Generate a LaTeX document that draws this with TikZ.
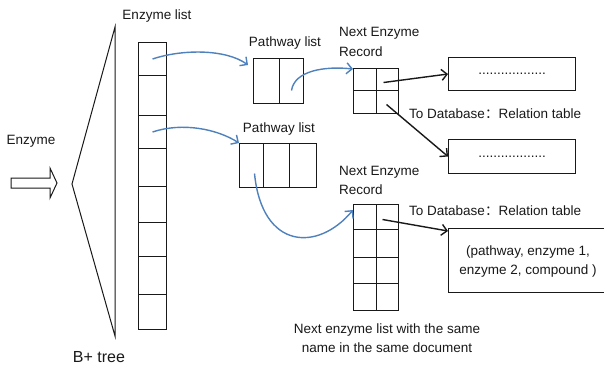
\documentclass[tikz,border=0pt]{standalone}
\usepackage{fontspec}
\setmainfont{Liberation Sans}
\newfontfamily\cjkfont{Noto Sans CJK SC}
\usetikzlibrary{arrows.meta,calc}
\definecolor{linkblue}{RGB}{79,129,189}
\definecolor{ink}{RGB}{25,25,25}

\begin{document}
\begin{tikzpicture}[x=1bp,y=-1bp,
  every node/.style={font=\fontsize{13.5bp}{19.5bp}\selectfont, text=ink},
  cell/.style={draw=ink, line width=1bp, inner sep=0, anchor=north west},
  caption/.style={inner sep=0},
  bluelink/.style={draw=linkblue, line width=1.4bp,
    -{Straight Barb[length=5.5bp,width=11bp]}},
  blacklink/.style={draw=ink, line width=1.4bp,
    -{Straight Barb[length=5.5bp,width=11bp]}}]

% canvas
\clip (0,0) rectangle (604,368);
\fill[white] (0,0) rectangle (604,368);

% input arrow and B+ tree outline
\draw[ink, line width=1bp, line join=miter]
  (11,178) -- (50,178) -- (50,168) -- (57,183) -- (50,198) -- (50,188) -- (11,188) -- cycle;
\draw[ink, line width=1bp] (115,27) -- (72,184) -- (115,336) -- cycle;

\node[caption] (enz)  at (31,141)  {Enzyme};
\node[caption, font=\fontsize{16bp}{19bp}\selectfont] (bt) at (99,357) {B+ tree};
\node[caption] (elst) at (157,16)  {Enzyme list};

% enzyme list column
\foreach \n/\top/\h in {1/42/33, 2/75/40, 3/115/33, 4/148/38,
                        5/186/36, 6/222/34, 7/256/38, 8/294/35}
  \node[cell, minimum width=28bp, minimum height=\h bp] (e\n) at (138,\top) {};

% pathway lists
\node[caption] (pl1) at (285,43) {Pathway list};
\node[cell, minimum width=26bp, minimum height=45bp] (p1a) at (253,58) {};
\node[cell, minimum width=24bp, minimum height=45bp] (p1b) at (279,58) {};

\node[caption] (pl2) at (279,129) {Pathway list};
\node[cell, minimum width=24bp, minimum height=44bp] (p2a) at (239,143) {};
\node[cell, minimum width=26bp, minimum height=44bp] (p2b) at (263,143) {};
\node[cell, minimum width=27bp, minimum height=44bp] (p2c) at (289,143) {};

% first record
\node[caption, align=left, anchor=west] (nr1) at (339,42) {Next Enzyme\\Record};
\node[cell, minimum width=23bp, minimum height=22bp] (r1a) at (353,68) {};
\node[cell, minimum width=22bp, minimum height=22bp] (r1b) at (376,68) {};
\node[cell, minimum width=23bp, minimum height=23bp] (r1c) at (353,90) {};
\node[cell, minimum width=22bp, minimum height=23bp] (r1d) at (376,90) {};

% second record
\node[caption, align=left, anchor=west] (nr2) at (339,180.5) {Next Enzyme\\Record};
\foreach \r/\top/\h in {a/204/25, c/229/28, e/257/26, g/283/27}
  \node[cell, minimum width=23bp, minimum height=\h bp] (r2\r) at (353,\top) {};
\foreach \r/\top/\h in {b/204/25, d/229/28, f/257/26, h/283/27}
  \node[cell, minimum width=22bp, minimum height=\h bp] (r2\r) at (376,\top) {};

\node[caption, align=center] (same) at (387,338)
  {Next enzyme list with the same\\name in the same document};

% relation tables
\node[cell, minimum width=127bp, minimum height=33bp] (box1) at (448,57)
  {..................};
\node[cell, minimum width=127bp, minimum height=34bp] (box2) at (448,139)
  {..................};
\node[cell, minimum width=175bp, minimum height=64bp] (box3) at (448,228) {};
\node[caption, align=center] (tuple) at (528,261.5)
  {(pathway, enzyme 1,\\enzyme 2, compound )};

\node[caption, anchor=west] (db1) at (409,114) {To Database{\cjkfont ：}Relation table};
\node[caption, anchor=west] (db2) at (409,211) {To Database{\cjkfont ：}Relation table};

% links
\draw[bluelink] (e1.center) .. controls +(30,-10) and +(-22,-16) .. ($(p1a.north west)+(-5,7)$);
\draw[bluelink] (e3.center) .. controls +(30,-10) and +(-22,-14) .. (p2a.north west);
\draw[bluelink] ($(p1b.center)+(0,9.5)$) .. controls +(3,-20) and +(-28,-3) .. ($(r1a.north west)+(0,1)$);
\draw[bluelink] ($(p2a.center)+(3,8)$) .. controls (262,250) and (318,252) .. ($(r2a.north west)+(0,6)$);

\draw[blacklink] ($(r1b.center)+(-4,3)$) -- (box1.west);
\draw[blacklink] ($(r1d.center)+(-1,2.5)$) -- (box2.west);
\draw[blacklink] ($(r2b.center)+(-5,2.5)$) -- ($(box3.north west)+(0,3)$);
\end{tikzpicture}
\end{document}
